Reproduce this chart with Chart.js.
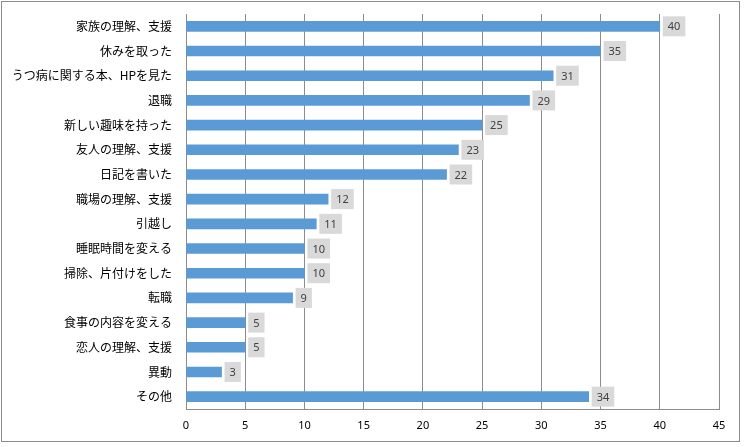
<!DOCTYPE html>
<html>
<head>
<meta charset="utf-8">
<script src="https://cdn.jsdelivr.net/npm/chart.js@4"></script>
<style>
  html, body { margin: 0; padding: 0; background: #fff; }
  #wrap { position: relative; width: 745px; height: 447px; }
</style>
</head>
<body>
<div id="wrap"><canvas id="chart" width="745" height="447"></canvas></div>
<script>
const categories = ['家族の理解、支援', '休みを取った', 'うつ病に関する本、HPを見た', '退職', '新しい趣味を持った',
    '友人の理解、支援', '日記を書いた', '職場の理解、支援', '引越し', '睡眠時間を変える',
    '掃除、片付けをした', '転職', '食事の内容を変える', '恋人の理解、支援', '異動', 'その他'];
const counts = [40, 35, 31, 29, 25, 23, 22, 12, 11, 10, 10, 9, 5, 5, 3, 34];
const xTicks = [0, 5, 10, 15, 20, 25, 30, 35, 40, 45];

// outer frame + white background
const framePlugin = {
    id: 'frame',
    beforeDraw(chart) {
        const ctx = chart.ctx;
        ctx.save();
        ctx.fillStyle = '#fff';
        ctx.fillRect(0, 0, chart.width, chart.height);
        ctx.strokeStyle = '#8c8c8c';
        ctx.lineWidth = 1;
        ctx.strokeRect(1.5, 1.5, 738, 440);
        ctx.restore();
    }
};

// grey boxed value labels
const valueBoxes = {
    id: 'valueBoxes',
    afterDatasetsDraw(chart) {
        const ctx = chart.ctx;
        const meta = chart.getDatasetMeta(0);
        ctx.save();
        ctx.font = '11px "Noto Sans", "DejaVu Sans", sans-serif';
        ctx.textBaseline = 'middle';
        ctx.textAlign = 'center';
        meta.data.forEach((bar, i) => {
            const txt = String(counts[i]);
            const w = ctx.measureText(txt).width + 10;
            const h = 20;
            const x0 = bar.x + 3;
            ctx.fillStyle = '#d9d9d9';
            ctx.fillRect(x0, bar.y - h / 2, w, h);
            ctx.fillStyle = '#404040';
            ctx.fillText(txt, x0 + w / 2, bar.y + 1);
        });
        ctx.restore();
    }
};

new Chart(document.getElementById('chart'), {
    type: 'bar',
    data: {
        labels: categories,
        datasets: [{
            data: counts,
            backgroundColor: '#5b9bd5',
            barThickness: 10
        }]
    },
    options: {
        indexAxis: 'y',
        responsive: false,
        animation: false,
        layout: { padding: { top: 14, right: 26, bottom: 8, left: 0 } },
        plugins: { legend: { display: false }, tooltip: { enabled: false } },
        scales: {
            x: {
                min: 0,
                max: 45,
                afterBuildTicks: axis => { axis.ticks = xTicks.map(v => ({ value: v })); },
                grid: { color: '#8c8c8c', drawTicks: false },
                border: { color: '#8c8c8c' },
                ticks: {
                    color: '#000',
                    padding: 10,
                    font: { family: '"Noto Sans", "DejaVu Sans", sans-serif', size: 11 }
                },
                afterFit: s => { s.height = 30; s.paddingLeft = 0; s.paddingRight = 0; }
            },
            y: {
                grid: { display: false, drawTicks: false },
                border: { color: '#8c8c8c' },
                ticks: {
                    color: '#000',
                    padding: 14,
                    autoSkip: false,
                    font: { family: '"Noto Sans CJK JP", sans-serif', size: 12 }
                },
                afterFit: s => { s.width = 186; s.paddingTop = 0; s.paddingBottom = 0; }
            }
        }
    },
    plugins: [framePlugin, valueBoxes]
});
</script>
</body>
</html>
